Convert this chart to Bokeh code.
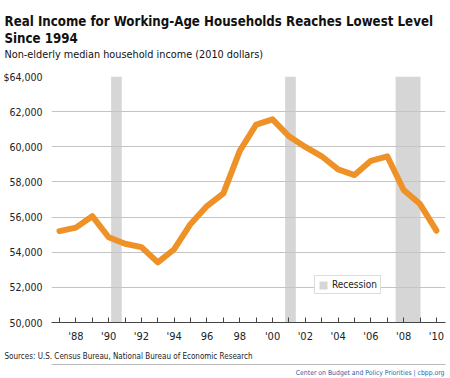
from bokeh.plotting import figure
from bokeh.models import (Legend, LegendItem, FixedTicker, Range1d, Title,
                          LinearAxis)
from bokeh.embed import file_html
from bokeh.resources import INLINE

# ---- data ----
years = list(range(1987, 2011))
income = [55200, 55400, 56050, 54850, 54480, 54290, 53420, 54170, 55610, 56630,
          57350, 59770, 61260, 61560, 60600, 59990, 59460, 58710, 58390, 59200,
          59460, 57540, 56740, 55230]
rec_start = [1990.15, 2000.77, 2007.51]
rec_end = [1990.80, 2001.42, 2009.03]
y_ticks = [50000, 52000, 54000, 56000, 58000, 60000, 62000, 64000]
y_labels = ["50,000", "52,000", "54,000", "56,000", "58,000", "60,000", "62,000", "$64,000"]
x_ticks = years
x_labels = ["", "'88", "", "'90", "", "'92", "", "'94", "", "96", "", "98", "",
            "'00", "", "'02", "", "'04", "", "'06", "", "'08", "", "'10"]

title_1 = "Real Income for Working-Age Households Reaches Lowest Level"
title_2 = "Since 1994"
subtitle = "Non-elderly median household income (2010 dollars)"
source = "Sources: U.S. Census Bureau, National Bureau of Economic Research"
credit = "Center on Budget and Policy Priorities | cbpp.org"

FONT = "DejaVu Sans Condensed"
ORANGE = "#ee9228"
BAND = "#d6d6d6"
LEFT = 50

p = figure(width=450, height=378, output_backend="svg", toolbar_location=None,
           x_range=Range1d(1986.513, 2010.554), y_range=Range1d(50000, 64000),
           min_border_left=LEFT, min_border_right=5, min_border_top=76,
           min_border_bottom=55)
p.outline_line_color = None

bands = p.quad(left=rec_start, right=rec_end, bottom=[y_ticks[0]] * len(rec_start),
               top=[y_ticks[-1]] * len(rec_start), fill_color=BAND, line_color=None)
bands.level = "image"

p.line(years, income, line_color=ORANGE, line_width=6, line_join="round", line_cap="round")

p.xgrid.grid_line_color = None
p.ygrid.grid_line_color = "#c4c4c4"
p.ygrid.grid_line_width = 1
p.yaxis.ticker = FixedTicker(ticks=y_ticks)
p.yaxis.major_label_overrides = {t: l for t, l in zip(y_ticks, y_labels)}
p.yaxis.axis_line_color = None
p.yaxis.major_tick_line_color = None
p.yaxis.minor_tick_line_color = None
p.yaxis.major_label_standoff = 3
p.yaxis.major_label_text_font = FONT
p.yaxis.major_label_text_font_size = "10.5px"
p.yaxis.major_label_text_color = "#222222"

p.xaxis.ticker = FixedTicker(ticks=x_ticks)
p.xaxis.major_label_overrides = {t: l for t, l in zip(x_ticks, x_labels)}
p.xaxis.axis_line_color = "#444444"
p.xaxis.major_tick_line_color = "#444444"
p.xaxis.major_tick_in = 5
p.xaxis.major_tick_out = 0
p.xaxis.minor_tick_line_color = None
p.xaxis.major_label_standoff = 7
p.xaxis.major_label_text_font = FONT
p.xaxis.major_label_text_font_size = "11px"
p.xaxis.major_label_text_color = "#222222"

legend = Legend(items=[LegendItem(label="Recession", renderers=[bands])],
                location=(263, 28), orientation="vertical",
                border_line_color="#bbbbbb", border_line_width=1,
                padding=3, spacing=0, margin=0,
                glyph_width=10, glyph_height=10, label_height=11,
                label_standoff=4, label_text_font=FONT,
                label_text_font_size="10px", label_text_color="#222222",
                background_fill_alpha=1.0)
p.add_layout(legend, "center")


def title(text, where, size, standoff, bold=False, color="#111111", align="left"):
    t = Title(text=text, align=align, offset=(3 - LEFT) if align == "left" else 1,
              standoff=standoff, text_font=FONT, text_font_size=size,
              text_font_style="bold" if bold else "normal", text_color=color)
    p.add_layout(t, where)


# header (first added sits closest to the frame)
p.title.visible = False
title(" ", "above", "1px", 12.8)
title(subtitle, "above", "10.8px", 0)
title(title_2, "above", "13.2px", 0, bold=True)
title(title_1, "above", "13.2px", 0, bold=True)

# footer
title(source, "below", "8px", 7.6, color="#222222")
p.extra_x_ranges = {"sep": Range1d(0, 1)}
sep = LinearAxis(x_range_name="sep", ticker=FixedTicker(ticks=[0.5]),
                 major_label_overrides={0.5: ""}, axis_line_color="#bbbbbb",
                 major_tick_line_color=None, minor_tick_line_color=None,
                 major_label_text_font_size="1px", major_tick_in=0,
                 major_tick_out=0, major_label_standoff=0)
p.add_layout(sep, "below")
title(credit, "below", "6.8px", 4, color="#2a62a8", align="right")

open("out.html", "w").write(file_html(p, INLINE))
